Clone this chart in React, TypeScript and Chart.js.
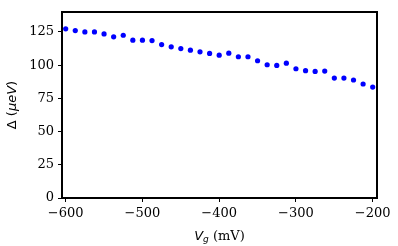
import React, { useEffect, useRef } from "react";
import { Chart, registerables } from "chart.js";

Chart.register(...registerables);

const gateVoltage = [
  -600, -587.5, -575, -562.5, -550, -537.5, -525, -512.5, -500, -487.5, -475,
  -462.5, -450, -437.5, -425, -412.5, -400, -387.5, -375, -362.5, -350, -337.5,
  -325, -312.5, -300, -287.5, -275, -262.5, -250, -237.5, -225, -212.5, -200,
];
const gapValues = [
  127.3, 126, 125, 125, 123.5, 121.3, 122.5, 118.8, 118.8, 118.5, 115.5, 113.8,
  112.5, 111.3, 110, 108.8, 107.5, 109, 106.3, 106.3, 103.3, 100.3, 99.8, 101.5,
  97.3, 95.8, 95.3, 95.5, 90.3, 90.3, 88.8, 85.8, 83.5,
];
const xTicks = [-600, -500, -400, -300, -200];
const yTicks = [0, 25, 50, 75, 100, 125];

const fmt = (v: number) => String(v).replace("-", "\u2212");

export default function App() {
  const ref = useRef<HTMLCanvasElement>(null);
  useEffect(() => {
    document.body.style.margin = "0";
    if (!ref.current) return;

    const drawSegments = (
      ctx: CanvasRenderingContext2D,
      segs: { t: string; f: string; dy?: number }[]
    ) => {
      let w = 0;
      for (const s of segs) {
        ctx.font = s.f;
        w += ctx.measureText(s.t).width;
      }
      let x = -w / 2;
      for (const s of segs) {
        ctx.font = s.f;
        ctx.fillText(s.t, x, s.dy || 0);
        x += ctx.measureText(s.t).width;
      }
    };

    const framePlugin = {
      id: "frame",
      afterDraw(chart: any) {
        const { ctx, chartArea: a } = chart;
        ctx.save();
        ctx.strokeStyle = "#000";
        ctx.lineWidth = 2;
        ctx.strokeRect(a.left, a.top, a.right - a.left, a.bottom - a.top);
        ctx.fillStyle = "#000";
        ctx.textAlign = "left";
        // y title
        ctx.save();
        ctx.translate(13, (a.top + a.bottom) / 2);
        ctx.rotate(-Math.PI / 2);
        ctx.textBaseline = "middle";
        drawSegments(ctx, [
          { t: "\u0394 (", f: "13px 'DejaVu Sans'" },
          { t: "\u03bceV", f: "italic 13px 'DejaVu Sans'" },
          { t: ")", f: "13px 'DejaVu Sans'" },
        ]);
        ctx.restore();
        // x title
        ctx.save();
        ctx.translate((a.left + a.right) / 2, 240);
        ctx.textBaseline = "alphabetic";
        drawSegments(ctx, [
          { t: "V", f: "italic 13px 'DejaVu Sans'" },
          { t: "g", f: "italic 9px 'DejaVu Sans'", dy: 2 },
          { t: " (mV)", f: "13px 'DejaVu Serif'" },
        ]);
        ctx.restore();
        ctx.restore();
      },
    };

    const chart = new Chart(ref.current, {
      type: "scatter",
      data: {
        datasets: [
          {
            data: gateVoltage.map((x, i) => ({ x, y: gapValues[i] })),
            backgroundColor: "#0000ff",
            borderWidth: 0,
            pointRadius: 2.6,
          },
        ],
      },
      options: {
        animation: false,
        responsive: false,
        devicePixelRatio: 1,
        layout: { padding: { top: 12, right: 21, left: 0, bottom: 0 } },
        plugins: {
          legend: { display: false },
          tooltip: { enabled: false },
        },
        scales: {
          x: {
            type: "linear",
            min: -604.8,
            max: -194.4,
            afterFit: (s: any) => {
              s.height = 48;
            },
            afterBuildTicks: (s: any) => {
              s.ticks = xTicks.map((v) => ({ value: v }));
            },
            border: { display: false },
            grid: {
              drawOnChartArea: false,
              drawTicks: true,
              tickLength: 4,
              color: "#000",
              lineWidth: 1,
            },
            ticks: {
              padding: 4,
              color: "#000",
              font: { family: "'DejaVu Serif'", size: 13 },
              maxRotation: 0,
              callback: (v: any) => fmt(Number(v)),
            },
          },
          y: {
            type: "linear",
            min: 0,
            max: 140,
            afterFit: (s: any) => {
              s.width = 62;
            },
            afterBuildTicks: (s: any) => {
              s.ticks = yTicks.map((v) => ({ value: v }));
            },
            border: { display: false },
            grid: {
              drawOnChartArea: false,
              drawTicks: true,
              tickLength: 4,
              color: "#000",
              lineWidth: 1,
            },
            ticks: {
              padding: 4,
              color: "#000",
              font: { family: "'DejaVu Serif'", size: 13 },
              callback: (v: any) => fmt(Number(v)),
            },
          },
        },
      },
      plugins: [framePlugin],
    });
    return () => chart.destroy();
  }, []);
  return (
    <div style={{ width: 398, height: 246 }}>
      <canvas ref={ref} width={398} height={246} style={{ display: "block" }} />
    </div>
  );
}
